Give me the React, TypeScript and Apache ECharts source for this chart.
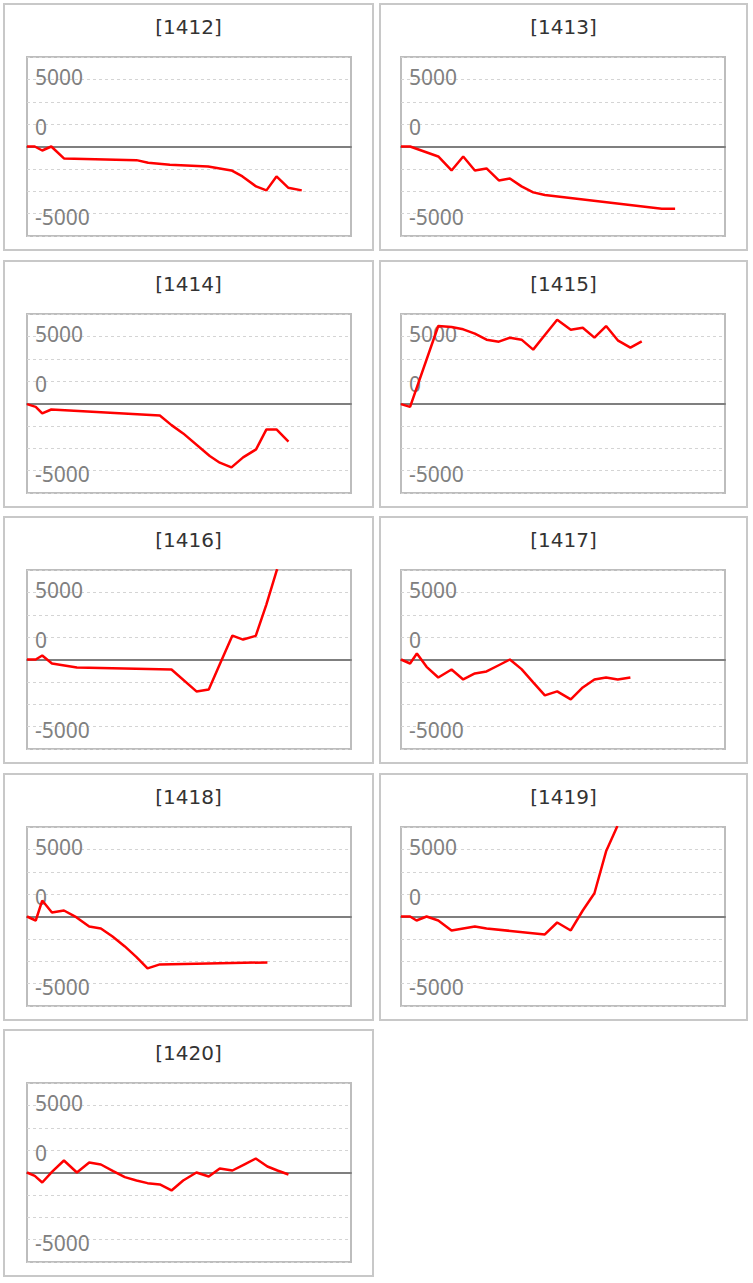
import React, { useEffect, useRef } from "react";
import * as echarts from "echarts";

const panelNames = ["[1412]", "[1413]", "[1414]", "[1415]", "[1416]", "[1417]", "[1418]", "[1419]", "[1420]"];

const x1412 = [0, 24, 47, 75, 114, 338, 374, 441, 559, 631, 665, 707, 739, 770, 806, 848];
const y1412 = [0, 0, -446, 0, -1337, -1523, -1820, -2043, -2229, -2675, -3343, -4458, -4904, -3343, -4606, -4904];

const x1413 = [0, 28, 115, 156, 192, 228, 264, 302, 336, 372, 408, 444, 805, 846];
const y1413 = [0, 0, -1115, -2675, -1115, -2675, -2452, -3789, -3566, -4458, -5127, -5424, -6947, -6947];

const x1414 = [0, 27, 47, 75, 410, 446, 482, 564, 595, 631, 667, 707, 739, 770, 807];
const y1414 = [-74, -372, -1115, -669, -1337, -2415, -3343, -5870, -6613, -7133, -6018, -5127, -2898, -2898, -4272];

const x1415 = [0, 28, 115, 156, 192, 228, 264, 302, 336, 372, 408, 444, 482, 524, 561, 597, 633, 669, 708, 743];
const y1415 = [-74, -372, 8656, 8545, 8285, 7802, 7133, 6910, 7356, 7133, 6018, 7653, 9362, 8248, 8471, 7356, 8656, 7059, 6241, 6947];

const x1416 = [0, 27, 47, 77, 154, 446, 523, 561, 595, 634, 667, 706, 739, 772];
const y1416 = [0, 0, 446, -446, -892, -1115, -3566, -3343, -520, 2675, 2229, 2638, 6167, 10100];

const x1417 = [0, 28, 49, 79, 115, 156, 192, 228, 264, 300, 336, 372, 408, 444, 482, 524, 561, 597, 633, 669, 708];
const y1417 = [0, -446, 669, -817, -2006, -1115, -2229, -1560, -1337, -669, 0, -1077, -2563, -4012, -3566, -4458, -3120, -2229, -2006, -2229, -2006];

const x1418 = [0, 27, 47, 77, 114, 152, 192, 228, 264, 302, 338, 372, 410, 742];
const y1418 = [0, -446, 1783, 446, 669, -74, -1115, -1337, -2229, -3343, -4532, -5795, -5350, -5127];

const x1419 = [0, 28, 48, 79, 115, 156, 228, 264, 444, 482, 524, 561, 597, 633, 668];
const y1419 = [0, 0, -446, 0, -446, -1560, -1115, -1337, -2006, -669, -1560, 669, 2601, 7282, 10100];

const x1420 = [0, 24, 47, 77, 114, 154, 192, 228, 266, 302, 338, 372, 410, 446, 482, 523, 561, 595, 634, 670, 706, 742, 773, 807];
const y1420 = [0, -372, -1115, 74, 1337, 0, 1115, 892, 149, -520, -892, -1189, -1337, -2006, -892, 0, -446, 446, 223, 892, 1560, 669, 223, -223];

const xSets = [x1412, x1413, x1414, x1415, x1416, x1417, x1418, x1419, x1420];
const ySets = [y1412, y1413, y1414, y1415, y1416, y1417, y1418, y1419, y1420];

const yTickLabels: Record<string, string> = { "7500": "{up|5000}", "2500": "{dn|0}", "-7500": "{dn|-5000}" };

function Panel({ idx }: { idx: number }) {
  const ref = useRef<HTMLDivElement>(null);
  const col = idx % 2;
  useEffect(() => {
    if (!ref.current) return;
    const chart = echarts.init(ref.current, undefined, { renderer: "svg" });
    const xs = xSets[idx];
    const ys = ySets[idx];
    const data = xs.map((x, i) => [x, ys[i]]);
    const labelFont = { fontFamily: "Noto Sans", fontSize: 21, color: "#808080" };
    chart.setOption({
      animation: false,
      title: {
        text: panelNames[idx],
        left: "center",
        top: 7,
        textStyle: { fontFamily: "DejaVu Sans", fontSize: 20, fontWeight: "normal", color: "#333" },
      },
      grid: {
        left: col === 0 ? 22 : 20,
        top: 52,
        width: 324,
        height: 179,
        show: true,
        borderColor: "#bdbdbd",
        borderWidth: 2,
        backgroundColor: "transparent",
      },
      xAxis: {
        type: "value",
        min: 0,
        max: 1000,
        axisLine: { show: true, onZero: true, lineStyle: { color: "#7f7f7f", width: 2 } },
        axisTick: { show: false },
        axisLabel: { show: false },
        splitLine: { show: false },
      },
      yAxis: {
        type: "value",
        min: -10000,
        max: 10000,
        interval: 2500,
        axisLine: { show: false },
        axisTick: { show: false },
        axisLabel: {
          inside: true,
          margin: 8,
          ...labelFont,
          formatter: (v: number) => yTickLabels[String(v)] ?? "",
          rich: {
            up: { ...labelFont, padding: [0, 0, 4, 0] },
            dn: { ...labelFont, padding: [6, 0, 0, 0] },
          },
        },
        splitLine: { show: true, lineStyle: { color: "#d4d4d4", type: [3, 3], width: 1 } },
      },
      series: [
        {
          type: "line",
          data,
          showSymbol: false,
          symbol: "none",
          clip: true,
          lineStyle: { color: "#ff0000", width: 2.5 },
          z: 3,
        },
      ],
    });
    return () => chart.dispose();
  }, [idx]);
  const row = Math.floor(idx / 2);
  const left = col === 0 ? 3 : 379;
  const width = col === 0 ? 371 : 369;
  return (
    <div
      style={{
        position: "absolute",
        left,
        top: 3 + row * 256.5,
        width,
        height: 248,
        border: "2px solid #c8c8c8",
        boxSizing: "border-box",
        background: "#fff",
      }}
    >
      <div ref={ref} style={{ width: width - 4, height: 244 }} />
    </div>
  );
}

export default function App() {
  return (
    <div style={{ position: "absolute", left: 0, top: 0, width: 753, height: 1283, background: "#fff" }}>
      {panelNames.map((_, i) => (
        <Panel key={i} idx={i} />
      ))}
    </div>
  );
}
